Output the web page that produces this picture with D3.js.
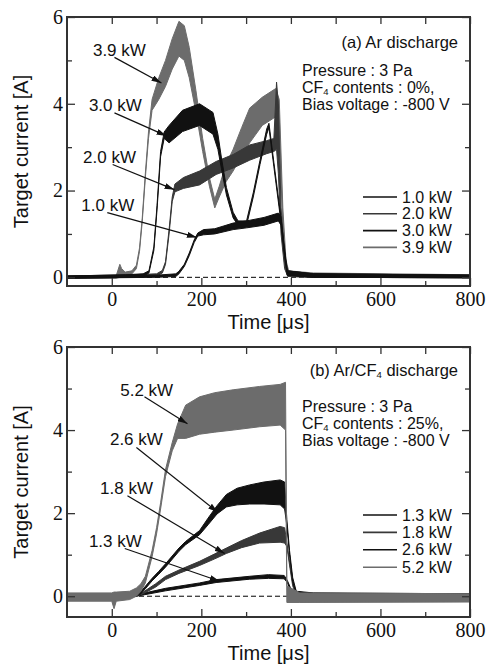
<!DOCTYPE html>
<html>
<head>
<meta charset="utf-8">
<script src="https://cdn.jsdelivr.net/npm/d3@7"></script>
<style>
body { margin: 0; background: #fff; }
svg { display: block; }
</style>
</head>
<body>
<svg id="drawing_region"></svg>
<script>
// target current envelopes: [time (us), lower (A), upper (A)]
const a10 = [[-100,-0.02,0.03],[100,0.0,0.05],[143,0.02,0.08],[150,0.08,0.14],[162,0.25,0.3],[173,0.5,0.56],[184,0.8,0.86],[192,0.95,1.02],[205,0.98,1.1],[230,1.0,1.12],[271,1.1,1.25],[301,1.14,1.3],[340,1.2,1.38],[372,1.3,1.48],[378,1.2,1.4],[385,0.55,0.65],[392,0.05,0.15],[450,0.0,0.08],[800,-0.01,0.05]];
const a20 = [[-100,-0.02,0.03],[40,0.0,0.06],[100,0.03,0.08],[113,0.1,0.16],[120,0.3,0.36],[128,1.0,1.1],[135,1.75,1.85],[141,1.97,2.15],[160,2.05,2.3],[196,2.13,2.45],[233,2.37,2.67],[271,2.52,2.83],[308,2.7,3.05],[346,2.85,3.15],[362,2.9,3.2],[368,2.95,4.5],[372,2.4,4.0],[378,1.0,1.6],[386,0.2,0.5],[393,0.02,0.12],[450,0.0,0.08],[800,-0.01,0.05]];
const a30 = [[-100,-0.02,0.03],[30,0.0,0.06],[70,0.03,0.08],[83,0.1,0.15],[94,0.62,0.7],[101,1.55,1.65],[109,2.78,2.9],[117,3.2,3.35],[128,3.1,3.5],[158,3.36,3.85],[196,3.5,4.0],[226,3.3,3.8],[237,2.95,3.3],[245,2.5,2.75],[256,1.9,2.07],[271,1.37,1.5],[282,1.2,1.3],[301,1.2,1.3],[316,1.85,1.95],[331,2.6,2.7],[346,3.3,3.42],[351,3.45,3.55],[362,2.55,2.65],[375,1.5,1.6],[385,0.66,0.74],[392,0.05,0.15],[450,0.0,0.08],[800,-0.01,0.05]];
const a39 = [[-100,-0.02,0.03],[10,-0.02,0.04],[18,0.0,0.3],[22,0.05,0.2],[30,0.05,0.12],[45,0.08,0.15],[55,0.2,0.28],[62,0.6,0.68],[68,1.28,1.36],[75,2.3,2.4],[82,3.2,3.35],[90,3.85,4.1],[105,4.1,4.6],[120,4.4,5.0],[135,4.8,5.5],[150,5.1,5.9],[162,5.0,5.8],[173,4.6,5.3],[188,3.8,4.3],[203,2.9,3.2],[218,2.1,2.3],[230,1.6,1.8],[240,1.85,2.1],[255,2.2,2.6],[271,2.45,2.95],[290,2.8,3.45],[308,3.1,3.9],[336,3.5,4.15],[366,3.7,4.35],[374,3.3,4.1],[382,1.2,1.6],[389,0.2,0.4],[395,0.02,0.15],[450,0.0,0.1],[800,-0.01,0.06]];

const b13 = [[-100,-0.02,0.03],[55,0.0,0.04],[70,0.03,0.07],[120,0.13,0.19],[196,0.26,0.32],[233,0.33,0.4],[308,0.41,0.48],[350,0.43,0.52],[385,0.42,0.5],[392,0.33,0.38],[400,0.12,0.18],[410,0.02,0.08],[450,0.0,0.07],[800,-0.01,0.05]];
const b18 = [[-100,-0.02,0.03],[55,0.0,0.04],[70,0.06,0.1],[98,0.22,0.3],[120,0.4,0.48],[150,0.55,0.63],[196,0.74,0.84],[230,0.9,1.02],[256,1.03,1.16],[290,1.17,1.34],[330,1.28,1.52],[376,1.3,1.68],[386,1.28,1.65],[391,1.2,1.3],[397,0.75,0.82],[404,0.25,0.32],[412,0.03,0.1],[450,0.0,0.07],[800,-0.01,0.05]];
const b26 = [[-100,-0.02,0.03],[55,0.0,0.04],[64,0.05,0.1],[75,0.18,0.24],[90,0.37,0.43],[105,0.53,0.6],[120,0.7,0.78],[150,1.08,1.16],[165,1.24,1.32],[196,1.48,1.58],[215,1.72,1.88],[235,1.98,2.18],[256,2.15,2.45],[280,2.2,2.6],[308,2.22,2.68],[340,2.22,2.75],[376,2.2,2.8],[386,2.1,2.75],[391,1.7,1.85],[397,1.0,1.1],[404,0.35,0.45],[412,0.04,0.12],[450,0.0,0.08],[800,-0.01,0.06]];
const b52 = [[-100,-0.12,0.08],[0,-0.12,0.08],[5,-0.3,0.1],[10,-0.12,0.1],[40,-0.08,0.12],[55,0.0,0.2],[65,0.12,0.3],[75,0.32,0.48],[90,0.95,1.1],[100,1.5,1.65],[109,2.1,2.25],[120,2.88,3.05],[135,3.5,3.7],[147,3.8,4.15],[165,3.8,4.6],[196,3.9,4.8],[230,3.95,4.9],[271,4.0,4.97],[330,4.08,5.05],[376,4.12,5.1],[388,4.0,5.15],[391,-0.15,0.25],[420,-0.15,0.08],[800,-0.14,0.06]];

const labelsA = ["1.0 kW", "2.0 kW", "3.0 kW", "3.9 kW"];
const labelsB = ["1.3 kW", "1.8 kW", "2.6 kW", "5.2 kW"];

const xMajor = [0, 200, 400, 600, 800];
const xMinor = [100, 300, 500, 700];
const yMajor = [0, 2, 4, 6];
const yMinor = [1, 3, 5];

// annotation: text position, arrow start, arrow tip (data coords)
const notesA = [
    {text: "3.9 kW", at: [17, 5.1],  from: [6, 5.07],   to: [111, 4.48]},
    {text: "3.0 kW", at: [8, 3.84],  from: [6, 3.79],   to: [122, 3.26]},
    {text: "2.0 kW", at: [-5, 2.64], from: [2, 2.6],    to: [140, 2.02]},
    {text: "1.0 kW", at: [-9, 1.54], from: [-10, 1.49], to: [190, 0.92]}
];
const notesB = [
    {text: "5.2 kW", at: [78, 4.83], from: [73, 4.8],  to: [169, 4.15]},
    {text: "2.6 kW", at: [55, 3.63], from: [55, 3.58], to: [237, 2.02]},
    {text: "1.8 kW", at: [33, 2.47], from: [35, 2.42], to: [252, 1.03]},
    {text: "1.3 kW", at: [8, 1.18],  from: [29, 1.15], to: [241, 0.36]}
];

// text segments: even index normal, odd index subscript
const titleA = ["(a) Ar discharge"];
const titleB = ["(b) Ar/CF", "4", " discharge"];
const infoA = [["Pressure : 3 Pa"], ["CF", "4", " contents : 0%,"], ["Bias voltage : -800 V"]];
const infoB = [["Pressure : 3 Pa"], ["CF", "4", " contents : 25%,"], ["Bias voltage : -800 V"]];

const BLACK = "#111", DARK = "#383838", GRAY = "#6c6c6c";
const SANS = '"Liberation Sans", Arial, sans-serif';
const SERIF = '"Liberation Serif", "Times New Roman", serif';

const svg = d3.select('#drawing_region')
    .attr('width', 488)
    .attr('height', 672)
    .style('font-family', SANS);

svg.append('defs').append('marker')
    .attr('id', 'arrow')
    .attr('viewBox', '0 0 10 6')
    .attr('refX', 10).attr('refY', 3)
    .attr('markerWidth', 10).attr('markerHeight', 6)
    .attr('markerUnits', 'userSpaceOnUse')
    .attr('orient', 'auto')
    .append('path')
    .attr('d', 'M0,0L10,3L0,6z')
    .attr('fill', BLACK);

class CurrentPlot {
    constructor(config, series, notes) {
        this.config = config;
        this.series = series;
        this.notes = notes;
        this.init();
    }

    init() {
        let self = this;
        const m = self.config.margin;
        self.inner_width = self.config.width - m.left - m.right;
        self.inner_height = self.config.height - m.top - m.bottom;

        self.chart = svg.append('g')
            .attr('transform', `translate(${m.left}, ${m.top})`);

        self.xscale = d3.scaleLinear().domain([-100, 800]).range([0, self.inner_width]);
        self.yscale = d3.scaleLinear().domain(self.config.ydomain).range([self.inner_height, 0]);

        self.chart.append('clipPath').attr('id', self.config.id + '_clip')
            .append('rect').attr('width', self.inner_width).attr('height', self.inner_height);
    }

    render() {
        let self = this;
        const x = self.xscale, y = self.yscale;

        // zero line
        self.chart.append('line')
            .attr('x1', x(-100)).attr('x2', x(800))
            .attr('y1', y(0)).attr('y2', y(0))
            .attr('stroke', '#000').attr('stroke-width', 1)
            .attr('stroke-dasharray', '5,3');

        const area = d3.area()
            .x(d => x(d[0]))
            .y0(d => y(d[1]))
            .y1(d => y(d[2]));

        self.chart.append('g')
            .attr('clip-path', `url(#${self.config.id}_clip)`)
            .selectAll('path')
            .data(self.series.slice().sort((a, b) => a.order - b.order))
            .enter()
            .append('path')
            .attr('d', d => area(d.data))
            .attr('fill', d => d.color)
            .attr('stroke', d => d.color)
            .attr('stroke-width', 1)
            .attr('stroke-linejoin', 'round');

        // axes, ticks inward on all four sides
        const styleAxis = g => {
            g.select('.domain').remove();
            g.selectAll('.tick line').attr('stroke', '#333').attr('stroke-width', 1.3);
            g.selectAll('text')
                .style('font-family', SERIF)
                .style('font-size', '20px')
                .attr('fill', '#111');
        };
        const H = self.inner_height, W = self.inner_width;
        self.chart.append('g').attr('transform', `translate(0, ${H})`)
            .call(d3.axisBottom(x).tickValues(xMajor).tickSize(-8).tickPadding(6).tickFormat(d3.format('d'))).call(styleAxis);
        self.chart.append('g').attr('transform', `translate(0, ${H})`)
            .call(d3.axisBottom(x).tickValues(xMinor).tickSize(-5).tickFormat('')).call(styleAxis);
        self.chart.append('g')
            .call(d3.axisTop(x).tickValues(xMajor.concat(xMinor)).tickSize(-7).tickFormat('')).call(styleAxis);
        self.chart.append('g')
            .call(d3.axisLeft(y).tickValues(yMajor).tickSize(-8).tickPadding(4).tickFormat(d3.format('d'))).call(styleAxis);
        self.chart.append('g')
            .call(d3.axisLeft(y).tickValues(yMinor).tickSize(-5).tickFormat('')).call(styleAxis);
        self.chart.append('g').attr('transform', `translate(${W}, 0)`)
            .call(d3.axisRight(y).tickValues(yMajor).tickSize(-8).tickFormat('')).call(styleAxis);
        self.chart.append('g').attr('transform', `translate(${W}, 0)`)
            .call(d3.axisRight(y).tickValues(yMinor).tickSize(-5).tickFormat('')).call(styleAxis);

        self.chart.append('rect')
            .attr('width', W).attr('height', H)
            .attr('fill', 'none').attr('stroke', '#333').attr('stroke-width', 2);

        // axis labels
        self.chart.append('text')
            .attr('x', W / 2).attr('y', H + 43)
            .attr('text-anchor', 'middle')
            .attr('font-size', '20px')
            .attr('fill', BLACK)
            .text('Time [\u03bcs]');

        self.chart.append('text')
            .attr('transform', `translate(${28 - self.config.margin.left}, ${H / 2}) rotate(-90)`)
            .attr('text-anchor', 'middle')
            .attr('font-size', '20px')
            .attr('fill', BLACK)
            .text('Target current [A]');

        // annotations with arrows
        const notes = self.chart.append('g');
        notes.selectAll('line')
            .data(self.notes)
            .enter()
            .append('line')
            .attr('x1', d => x(d.from[0])).attr('y1', d => y(d.from[1]))
            .attr('x2', d => x(d.to[0])).attr('y2', d => y(d.to[1]))
            .attr('stroke', BLACK).attr('stroke-width', 1.2)
            .attr('marker-end', 'url(#arrow)');
        notes.selectAll('text')
            .data(self.notes)
            .enter()
            .append('text')
            .attr('x', d => x(d.at[0])).attr('y', d => y(d.at[1]))
            .attr('text-anchor', 'middle')
            .attr('font-size', '17px')
            .attr('fill', BLACK)
            .text(d => d.text);

        // condition text
        const addSegments = (txt, segs) => {
            segs.forEach((s, i) => {
                if (i % 2 === 1) {
                    txt.append('tspan').attr('font-size', '9.5px').attr('dy', 2).text(s);
                } else {
                    txt.append('tspan').attr('dy', i > 0 ? -2 : 0).text(s);
                }
            });
        };
        const c = self.config;
        const title = self.chart.append('text')
            .attr('x', W - 12).attr('y', c.titleY)
            .attr('text-anchor', 'end')
            .attr('font-size', '16.5px')
            .attr('fill', BLACK);
        addSegments(title, c.title);

        c.info.forEach((segs, i) => {
            const t = self.chart.append('text')
                .attr('x', 235).attr('y', c.infoY + i * 17)
                .attr('font-size', '16px')
                .attr('fill', BLACK);
            addSegments(t, segs);
        });

        // legend
        const legend = self.chart.append('g')
            .selectAll('g')
            .data(self.series.slice().sort((a, b) => a.legend - b.legend))
            .enter()
            .append('g')
            .attr('transform', (d, i) => `translate(296, ${c.legendY + i * c.legendStep})`);
        legend.append('line')
            .attr('x1', 0).attr('x2', 34)
            .attr('stroke', d => d.color).attr('stroke-width', 1.6);
        legend.append('text')
            .attr('x', 39).attr('dy', '0.35em')
            .attr('font-size', '16px')
            .attr('fill', BLACK)
            .text(d => d.label);
    }
}

const plotA = new CurrentPlot({
    id: 'pa', width: 488, height: 330,
    margin: {top: 17, right: 18, bottom: 44, left: 67},
    ydomain: [-0.2, 6],
    title: titleA, titleY: 31, info: infoA, infoY: 59,
    legendY: 180, legendStep: 16.8
}, [
    {label: labelsA[0], data: a10, color: BLACK, order: 3, legend: 0},
    {label: labelsA[1], data: a20, color: DARK,  order: 1, legend: 1},
    {label: labelsA[2], data: a30, color: BLACK, order: 2, legend: 2},
    {label: labelsA[3], data: a39, color: GRAY,  order: 0, legend: 3}
], notesA);
plotA.render();

const plotB = new CurrentPlot({
    id: 'pb', width: 488, height: 672,
    margin: {top: 347, right: 18, bottom: 55, left: 67},
    ydomain: [-0.5, 6],
    title: titleB, titleY: 29, info: infoB, infoY: 65,
    legendY: 168, legendStep: 17.4
}, [
    {label: labelsB[0], data: b13, color: BLACK, order: 0, legend: 0},
    {label: labelsB[1], data: b18, color: DARK,  order: 1, legend: 1},
    {label: labelsB[2], data: b26, color: BLACK, order: 2, legend: 2},
    {label: labelsB[3], data: b52, color: GRAY,  order: 3, legend: 3}
], notesB);
plotB.render();
</script>
</body>
</html>
